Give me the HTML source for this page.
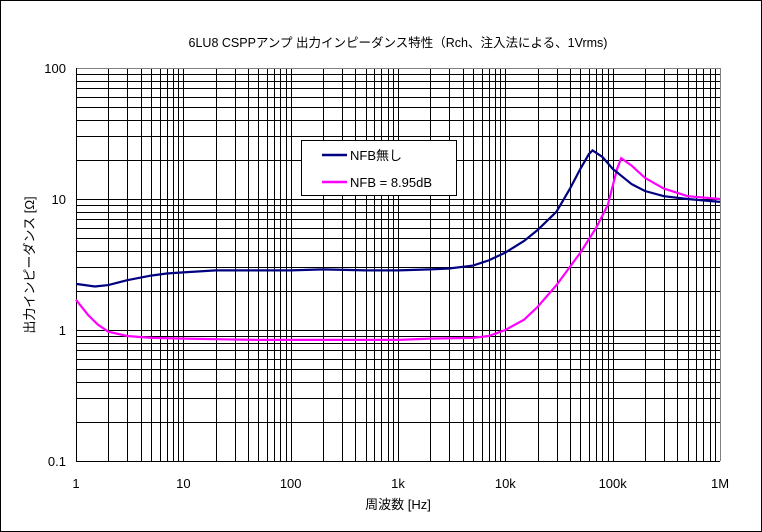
<!DOCTYPE html>
<html><head><meta charset="utf-8"><style>
html,body{margin:0;padding:0;background:#fff;}
svg{display:block;font-family:"Liberation Sans","Noto Sans CJK JP",sans-serif;}
</style></head><body>
<svg id="chart" width="762" height="532" viewBox="0 0 762 532" xmlns="http://www.w3.org/2000/svg">
<rect x="0.5" y="0.5" width="761" height="531" fill="#fff" stroke="#000"/>
<text x="398" y="47" font-size="12.5" text-anchor="middle">6LU8 CSPPアンプ 出力インピーダンス特性（Rch、注入法による、1Vrms)</text>
<g id="grid"></g>
<g id="ticks" font-size="13"></g>
<g id="series"></g>
<text x="398" y="509" font-size="13" text-anchor="middle">周波数 [Hz]</text>
<text transform="translate(34,265) rotate(-90)" font-size="13" text-anchor="middle">出力インピーダンス [Ω]</text>
<g>
<rect x="301.5" y="140.5" width="155" height="55" fill="#fff" stroke="#000"/>
<line x1="322" y1="155" x2="347" y2="155" stroke="#000080" stroke-width="2.5"/>
<text x="350" y="160" font-size="13">NFB無し</text>
<line x1="322" y1="182" x2="347" y2="182" stroke="#ff00ff" stroke-width="2.5"/>
<text x="350" y="187" font-size="13">NFB = 8.95dB</text>
</g>
</svg>
<script>
const xTickLabels=["1","10","100","1k","10k","100k","1M"];
const yTickLabels=["0.1","1","10","100"];
const freqNoNfb=[1,1.5,2,3,5,7,10,20,50,100,200,500,1000,2000,3000,5000,7000,10000,15000,20000,30000,40000,50000,60000,65000,80000,100000,150000,200000,300000,500000,1000000];
const zNoNfb=[2.25,2.15,2.2,2.4,2.6,2.7,2.75,2.85,2.85,2.85,2.9,2.85,2.85,2.9,2.95,3.1,3.4,3.9,4.8,5.8,8,12,17,22,23.5,21,17,13,11.5,10.5,10,9.5];
const freqNfb=[1,1.3,1.6,2,3,5,10,20,50,100,200,500,1000,2000,5000,7000,10000,15000,20000,30000,50000,70000,90000,110000,120000,150000,200000,300000,500000,1000000];
const zNfb=[1.7,1.3,1.1,0.97,0.9,0.87,0.86,0.85,0.84,0.84,0.84,0.84,0.84,0.86,0.87,0.9,1.0,1.2,1.5,2.2,3.9,6,9,17,20.5,18,14.5,12,10.5,10];
const X0=76,X1=720,Y0=68,Y1=461;
const xs=f=>X0+(Math.log10(f)/6)*(X1-X0);
const ys=v=>Y0+((2-Math.log10(v))/3)*(Y1-Y0);
const NS="http://www.w3.org/2000/svg";
const grid=document.getElementById('grid'),ticks=document.getElementById('ticks'),series=document.getElementById('series');
function ln(x1,y1,x2,y2,c){const l=document.createElementNS(NS,'line');l.setAttribute('x1',x1);l.setAttribute('y1',y1);l.setAttribute('x2',x2);l.setAttribute('y2',y2);l.setAttribute('stroke',c);l.setAttribute('stroke-width',1);


grid.appendChild(l);}
for(let d=0;d<6;d++)for(let m=1;m<10;m++){const x=Math.round(xs(Math.pow(10,d)*m))+0.5;ln(x,Y0,x,Y1,'#000');}
for(let d=-1;d<2;d++)for(let m=1;m<10;m++){const y=Math.round(ys(Math.pow(10,d)*m))+0.5;ln(X0,y,X1,y,'#000');}
ln(X0,Y0+0.5,X1,Y0+0.5,'#808080');ln(X1+0.5,Y0,X1+0.5,Y1,'#808080');
ln(X0,Y1+0.5,X1,Y1+0.5,'#000');ln(X0+0.5,Y0,X0+0.5,Y1,'#000');
xTickLabels.forEach((t,i)=>{const e=document.createElementNS(NS,'text');e.setAttribute('x',xs(Math.pow(10,i)));e.setAttribute('y',488);e.setAttribute('text-anchor','middle');e.textContent=t;


ticks.appendChild(e);});
yTickLabels.forEach((t,i)=>{const e=document.createElementNS(NS,'text');e.setAttribute('x',66);e.setAttribute('y',ys(Math.pow(10,i-1))+5);e.setAttribute('text-anchor','end');e.textContent=t;


ticks.appendChild(e);});
function line(fr,z,c,name){const p=document.createElementNS(NS,'polyline');p.setAttribute('points',fr.map((f,i)=>xs(f).toFixed(1)+','+ys(z[i]).toFixed(1)).join(' '));p.setAttribute('fill','none');p.setAttribute('stroke',c);p.setAttribute('stroke-width',2.2);


series.appendChild(p);}
line(freqNfb,zNfb,'#ff00ff','series-nfb-8-95db');
line(freqNoNfb,zNoNfb,'#000080','series-no-nfb');
</script>
</body></html>
